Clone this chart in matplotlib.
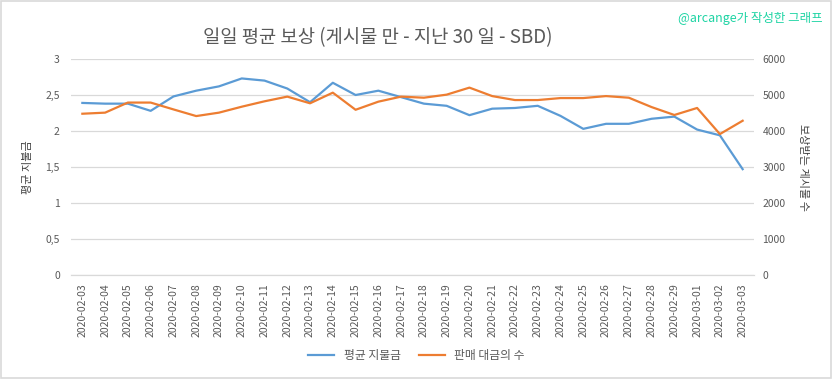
import matplotlib.pyplot as plt
from matplotlib.patches import Rectangle
from matplotlib.ticker import FuncFormatter

plt.rcParams["font.family"] = ["Noto Sans CJK KR", "DejaVu Sans"]

dates = [
    "2020-02-03", "2020-02-04", "2020-02-05", "2020-02-06", "2020-02-07",
    "2020-02-08", "2020-02-09", "2020-02-10", "2020-02-11", "2020-02-12",
    "2020-02-13", "2020-02-14", "2020-02-15", "2020-02-16", "2020-02-17",
    "2020-02-18", "2020-02-19", "2020-02-20", "2020-02-21", "2020-02-22",
    "2020-02-23", "2020-02-24", "2020-02-25", "2020-02-26", "2020-02-27",
    "2020-02-28", "2020-02-29", "2020-03-01", "2020-03-02", "2020-03-03",
]

avg_payout = [
    2.39, 2.38, 2.38, 2.28, 2.48, 2.56, 2.62, 2.73, 2.70, 2.59,
    2.40, 2.67, 2.50, 2.56, 2.47, 2.38, 2.35, 2.22, 2.31, 2.32,
    2.35, 2.21, 2.03, 2.10, 2.10, 2.17, 2.20, 2.02, 1.94, 1.47,
]

post_count = [
    4480, 4510, 4790, 4790, 4600, 4415, 4510, 4675, 4825, 4955,
    4770, 5065, 4590, 4815, 4955, 4925, 5010, 5205, 4970, 4860,
    4860, 4915, 4915, 4970, 4925, 4665, 4445, 4640, 3915, 4285,
]

blue = "#5B9BD5"
orange = "#ED7D31"
text_color = "#595959"
grid_color = "#D9D9D9"

fig = plt.figure(figsize=(8.33, 3.79), dpi=100)
ax = fig.add_axes([0.0852, 0.2744, 0.8200, 0.5699])
ax2 = ax.twinx()

x = list(range(len(dates)))
line1, = ax.plot(x, avg_payout, color=blue, linewidth=1.6, label="평균 지불금")
line2, = ax2.plot(x, post_count, color=orange, linewidth=1.6, label="판매 대금의 수")

ax.set_xlim(-0.5, len(dates) - 0.5)
ax.set_ylim(0, 3)
ax2.set_ylim(0, 6000)
ax.set_yticks([0, 0.5, 1, 1.5, 2, 2.5, 3])
ax2.set_yticks(range(0, 6001, 1000))
ax.yaxis.set_major_formatter(FuncFormatter(lambda v, p: f"{v:g}".replace(".", ",")))

ax.set_xticks(x)
ax.set_xticklabels(dates, rotation=90, fontsize=7, color=text_color)
ax.grid(True, axis="y", color=grid_color, linewidth=0.9)
ax.set_axisbelow(True)

for a in (ax, ax2):
    for side in ("top", "left", "right"):
        a.spines[side].set_visible(False)
    a.spines["bottom"].set_color(grid_color)
    a.tick_params(length=0, labelsize=7.5, labelcolor=text_color)
ax.tick_params(axis="x", pad=6)
ax.tick_params(axis="y", pad=8)
ax2.tick_params(axis="y", pad=6)

ax.set_ylabel("평균 지불금", fontsize=8, color="#404040", labelpad=9)
ax2.set_ylabel("보상받는 게시물 수", fontsize=8, color="#404040", rotation=-90, labelpad=16)

fig.text(0.454, 0.90, "일일 평균 보상 (게시물 만 - 지난 30 일 - SBD)",
         ha="center", va="center", fontsize=13.5, color=text_color)
fig.text(0.987, 0.952, "@arcange가 작성한 그래프",
         ha="right", va="center", fontsize=9, color="#1ED4A4")

fig.legend(handles=[line1, line2], loc="center", bbox_to_anchor=(0.5, 0.062),
           ncol=2, frameon=False, fontsize=8.5, handlelength=2.2,
           columnspacing=1.5, labelcolor=text_color)

fig.patches.append(Rectangle((0.001, 0.002), 0.997, 0.995, transform=fig.transFigure,
                             fill=False, edgecolor="#D9D9D9", linewidth=1.2))

fig.savefig("out.png", dpi=100)
